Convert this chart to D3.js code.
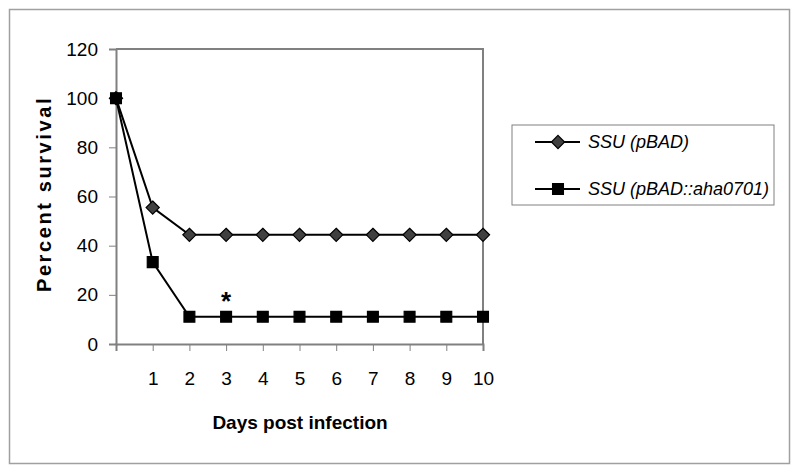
<!DOCTYPE html>
<html>
<head>
	<title>Percent survival</title>
	<script src="https://d3js.org/d3.v7.min.js" charset="utf-8"></script>
	<style>
		body { margin: 0; background: #fff; }
		text { font-family: Arial, "Liberation Sans", sans-serif; }
	</style>
</head>
<body>
<script type="text/javascript">
	// data
	var days = [0, 1, 2, 3, 4, 5, 6, 7, 8, 9, 10];
	var pBAD = [100, 55.5, 44.4, 44.4, 44.4, 44.4, 44.4, 44.4, 44.4, 44.4, 44.4];
	var pBADaha = [100, 33.3, 11.1, 11.1, 11.1, 11.1, 11.1, 11.1, 11.1, 11.1, 11.1];
	var seriesNames = ["SSU (pBAD)", "SSU (pBAD::aha0701)"];
	var xTicks = [0, 1, 2, 3, 4, 5, 6, 7, 8, 9, 10];
	var yTicks = [0, 20, 40, 60, 80, 100, 120];
	var starDay = 3, starValue = 19;

	var svgWidth = 800, svgHeight = 475;

	var svg = d3.select("body")
		.append("svg")
		.attr("width", svgWidth)
		.attr("height", svgHeight);

	// outer frame
	svg.append("rect")
		.attr("x", 9.5).attr("y", 9.5)
		.attr("width", 780).attr("height", 454)
		.attr("fill", "none").attr("stroke", "#a0a0a0").attr("stroke-width", 1.5);

	var x = d3.scaleLinear().domain([0, 10]).range([116, 483]);
	var y = d3.scaleLinear().domain([0, 120]).range([344, 49]);

	// plot area border (top / right)
	svg.append("path")
		.attr("d", "M" + x(0) + "," + y(120) + "H" + x(10) + "V" + y(0))
		.attr("fill", "none").attr("stroke", "#808080").attr("stroke-width", 2);

	var xAxis = svg.append("g")
		.attr("transform", "translate(0," + y(0) + ")")
		.call(d3.axisBottom(x).tickValues(xTicks).tickSize(7).tickPadding(21)
			.tickFormat(function(d) { return d === 0 ? "" : d; }));

	var yAxis = svg.append("g")
		.attr("transform", "translate(" + x(0) + ",0)")
		.call(d3.axisLeft(y).tickValues(yTicks).tickSize(7).tickPadding(11));

	[xAxis, yAxis].forEach(function(g) {
		g.select(".domain").attr("stroke", "#808080").attr("stroke-width", 2);
		g.selectAll(".tick line").attr("stroke", "#808080").attr("stroke-width", 1);
		g.selectAll(".tick text").attr("fill", "#000").style("font-size", "19px")
			.style("font-family", "Arial, 'Liberation Sans', sans-serif");
	});

	var line = d3.line()
		.x(function(d, i) { return x(days[i]); })
		.y(function(d) { return y(d); });

	var diamond = d3.symbol().type(d3.symbolDiamond2).size(110);
	var square = d3.symbol().type(d3.symbolSquare2).size(150);

	function drawSeries(values, sym, fill) {
		svg.append("path")
			.datum(values)
			.attr("d", line)
			.attr("fill", "none").attr("stroke", "#000").attr("stroke-width", 2);
		svg.selectAll(null)
			.data(values)
			.enter().append("path")
			.attr("d", sym)
			.attr("transform", function(d, i) { return "translate(" + x(days[i]) + "," + y(d) + ")"; })
			.attr("fill", fill).attr("stroke", "#000").attr("stroke-width", 1.2);
	}

	drawSeries(pBAD, diamond, "#404040");
	drawSeries(pBADaha, square, "#000");

	// significance star
	svg.append("text")
		.attr("x", x(starDay)).attr("y", y(starValue) + 13)
		.attr("text-anchor", "middle")
		.style("font-size", "26px").style("font-weight", "bold")
		.text("*");

	// axis titles
	svg.append("text")
		.attr("transform", "translate(51,194) rotate(-90)")
		.attr("text-anchor", "middle")
		.style("font-size", "20px").style("font-weight", "bold")
		.style("letter-spacing", "2.6px")
		.text("Percent survival");

	svg.append("text")
		.attr("x", 300).attr("y", 429)
		.attr("text-anchor", "middle")
		.style("font-size", "19px").style("font-weight", "bold")
		.text("Days post infection");

	// legend
	var legend = svg.append("g");
	legend.append("rect")
		.attr("x", 512).attr("y", 125).attr("width", 262).attr("height", 80)
		.attr("fill", "none").attr("stroke", "#808080").attr("stroke-width", 1);

	var legendSyms = [diamond, square];
	var legendFills = ["#404040", "#000"];
	var legendY = [142, 189];
	seriesNames.forEach(function(name, i) {
		legend.append("line")
			.attr("x1", 535).attr("x2", 580)
			.attr("y1", legendY[i]).attr("y2", legendY[i])
			.attr("stroke", "#000").attr("stroke-width", 2);
		legend.append("path")
			.attr("d", legendSyms[i])
			.attr("transform", "translate(558," + legendY[i] + ")")
			.attr("fill", legendFills[i]).attr("stroke", "#000").attr("stroke-width", 1.2);
		legend.append("text")
			.attr("x", 588).attr("y", legendY[i] + 6)
			.style("font-size", "18px").style("font-style", "italic")
			.text(name);
	});
</script>
</body>
</html>
